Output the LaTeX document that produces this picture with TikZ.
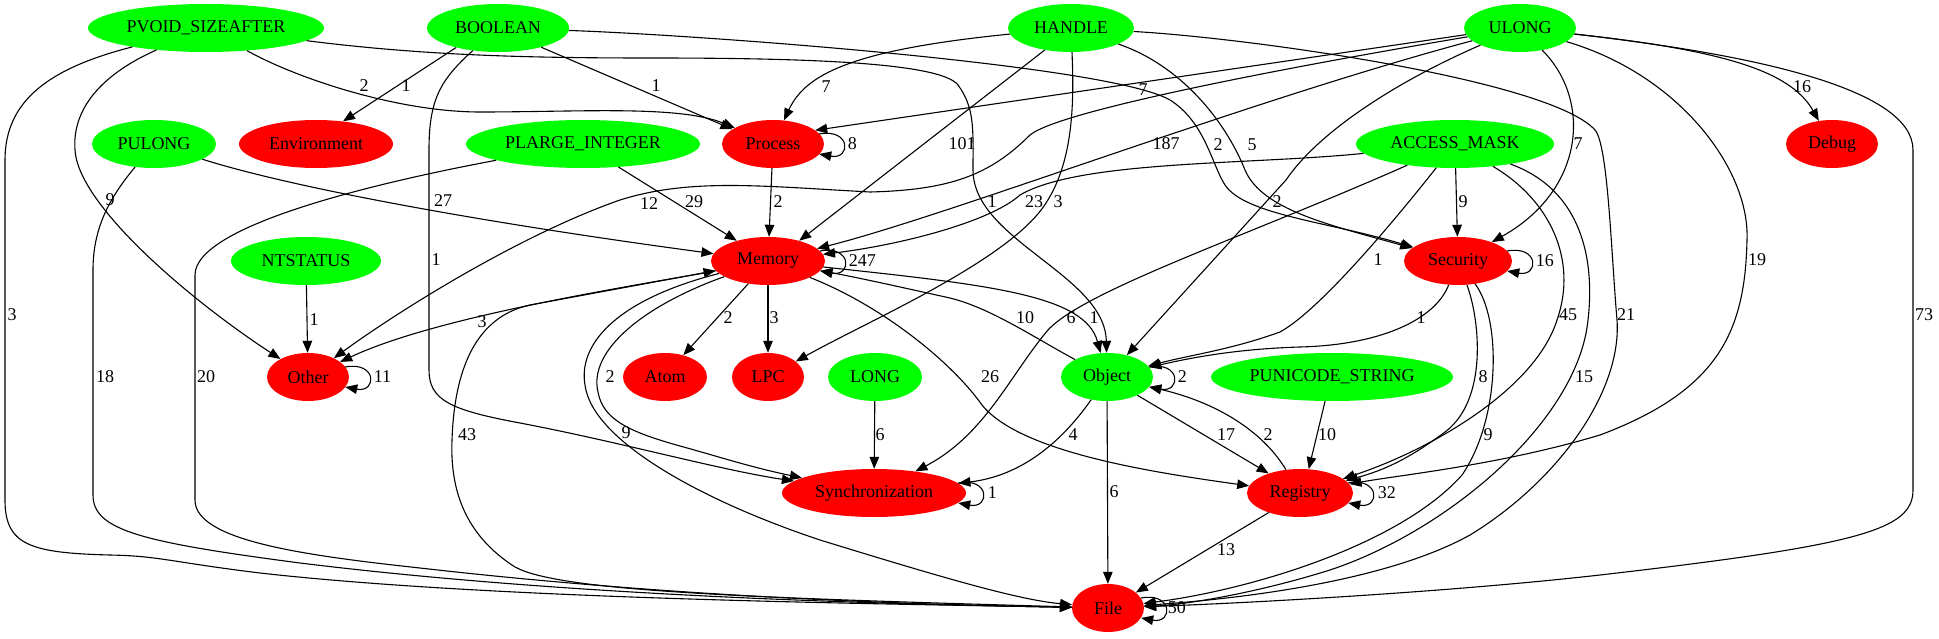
\documentclass[tikz,border=0pt]{standalone}
\usepackage{fontspec}
\setmainfont{Liberation Serif}
\usetikzlibrary{arrows.meta}
\usetikzlibrary{shapes.geometric}
\definecolor{typegreen}{RGB}{0,255,0}
\definecolor{groupred}{RGB}{255,0,0}
\newcommand{\gvfont}{\fontsize{18}{21}\selectfont}

\begin{document}
\begin{tikzpicture}[x=1pt, y=-1pt,
    typ/.style={ellipse, fill=typegreen, minimum height=48pt, inner sep=0pt, font=\gvfont},
    grp/.style={typ, fill=groupred},
    dep/.style={line width=1.1pt, -{Triangle[length=12pt, width=9.5pt]}},
    lbl/.style={font=\gvfont, inner sep=0pt}]
    \useasboundingbox[fill=white] (0,0) rectangle (1939,639);

    \node[typ, minimum width=236pt] (pvoid) at (206,28) {PVOID\_SIZEAFTER};
    \node[typ, minimum width=142pt] (boolean) at (498,28) {BOOLEAN};
    \node[typ, minimum width=126pt] (handle) at (1071,28) {HANDLE};
    \node[typ, minimum width=112pt] (ulong) at (1520,28) {ULONG};
    \node[typ, minimum width=124pt] (pulong) at (154,144) {PULONG};
    \node[grp, minimum width=154pt] (env) at (316,144) {Environment};
    \node[typ, minimum width=234pt] (plarge) at (583,144) {PLARGE\_INTEGER};
    \node[grp, minimum width=102pt] (process) at (773,144) {Process};
    \node[typ, minimum width=198pt] (access) at (1455,144) {ACCESS\_MASK};
    \node[grp, minimum width=92pt] (debug) at (1832,144) {Debug};
    \node[typ, minimum width=150pt] (ntstatus) at (306,261) {NTSTATUS};
    \node[grp, minimum width=114pt] (memory) at (768,261) {Memory};
    \node[grp, minimum width=108pt] (security) at (1458,261) {Security};
    \node[grp, minimum width=82pt] (other) at (308,377) {Other};
    \node[grp, minimum width=84pt] (atom) at (665,377) {Atom};
    \node[grp, minimum width=72pt] (lpc) at (768,377) {LPC};
    \node[typ, minimum width=94pt] (long) at (875,377) {LONG};
    \node[typ, minimum width=92pt] (object) at (1107,377) {Object};
    \node[typ, minimum width=242pt] (punicode) at (1332,377) {PUNICODE\_STRING};
    \node[grp, minimum width=184pt] (sync) at (874,493) {Synchronization};
    \node[grp, minimum width=106pt] (registry) at (1300,493) {Registry};
    \node[grp, minimum width=72pt] (file) at (1108,608) {File};

    \draw[dep] (pvoid) .. controls (50,68) and (5,100) .. (5,160) -- (5,500) .. controls (5,545) and (30,553) .. (110,555) .. controls (160,556) and (170,562) .. (260,573) .. controls (500,600) and (900,604) .. (file) node[lbl] at (12,315) {3};
    \draw[dep] (pvoid) .. controls (100,75) and (72,110) .. (75,150) .. controls (78,205) and (190,300) .. (other) node[lbl] at (110,200) {9};
    \draw[dep] (pvoid) .. controls (300,80) and (400,112) .. (480,112) .. controls (580,112) and (680,105) .. (process) node[lbl] at (364,86) {2};
    \draw[dep] (pvoid) .. controls (420,55) and (520,58) .. (650,58) .. controls (800,58) and (940,62) .. (958,85) .. controls (975,108) and (973,130) .. (973,170) .. controls (973,240) and (1105,275) .. (object) node[lbl] at (992,202) {1};

    \draw[dep] (boolean.205) -- (env.40) node[lbl] at (406,86) {1};
    \draw[dep] (boolean.-24) -- (process.160) node[lbl] at (656,86) {1};
    \draw[dep] (boolean) .. controls (440,80) and (429,100) .. (429,150) -- (429,370) .. controls (429,400) and (450,410) .. (520,423) .. controls (620,442) and (720,470) .. (sync) node[lbl] at (436,260) {1};
    \draw[dep] (boolean) .. controls (700,35) and (1110,65) .. (1170,100) .. controls (1205,122) and (1212,165) .. (1225,185) .. controls (1245,215) and (1330,222) .. (security) node[lbl] at (1218,145) {2};

    \draw[dep] (handle) .. controls (850,50) and (805,75) .. (process) node[lbl] at (826,87) {7};
    \draw[dep] (handle.220) -- (memory.33) node[lbl] at (962,144) {101};
    \draw[dep] (handle) .. controls (1074,100) and (1074,160) .. (1046,203) .. controls (1010,260) and (870,320) .. (lpc) node[lbl] at (1058,202) {3};
    \draw[dep] (handle) .. controls (1180,65) and (1225,120) .. (1245,170) .. controls (1262,210) and (1330,225) .. (security) node[lbl] at (1252,145) {5};
    \draw[dep] (handle) .. controls (1250,38) and (1550,80) .. (1595,130) .. controls (1608,145) and (1611,250) .. (1617,320) .. controls (1622,390) and (1560,480) .. (1470,535) .. controls (1380,585) and (1220,600) .. (file) node[lbl] at (1626,315) {21};

    \draw[dep] (ulong.187) -- (process.18) node[lbl] at (1143,90) {7};
    \draw[dep] (ulong) .. controls (1300,65) and (1060,110) .. (1030,135) .. controls (990,175) and (950,190) .. (870,192) .. controls (760,186) and (690,178) .. (620,200) .. controls (520,235) and (400,310) .. (other) node[lbl] at (649,204) {12};
    \draw[dep] (ulong) .. controls (1250,100) and (950,215) .. (memory) node[lbl] at (1166,144) {187};
    \draw[dep] (ulong) .. controls (1400,80) and (1320,130) .. (1286,180) -- (object) node[lbl] at (1277,202) {2};
    \draw[dep] (ulong) .. controls (1592,100) and (1585,190) .. (security) node[lbl] at (1578,144) {7};
    \draw[dep] (ulong) .. controls (1720,50) and (1790,70) .. (debug) node[lbl] at (1802,87) {16};
    \draw[dep] (ulong) .. controls (1680,75) and (1750,170) .. (1747,240) .. controls (1745,330) and (1720,390) .. (1600,435) .. controls (1500,465) and (1400,475) .. (registry) node[lbl] at (1757,260) {19};
    \draw[dep] (ulong) .. controls (1760,55) and (1913,90) .. (1913,150) -- (1913,490) .. controls (1913,530) and (1860,545) .. (1600,575) .. controls (1450,592) and (1250,603) .. (file) node[lbl] at (1924,315) {73};

    \draw[dep] (pulong) .. controls (300,190) and (500,225) .. (memory) node[lbl] at (443,201) {27};
    \draw[dep] (pulong) .. controls (112,195) and (93,225) .. (93,270) -- (93,495) .. controls (93,530) and (140,542) .. (300,563) .. controls (600,600) and (950,605) .. (file) node[lbl] at (105,377) {18};
    \draw[dep] (plarge.-33) -- (memory.147) node[lbl] at (694,202) {29};
    \draw[dep] (plarge) .. controls (380,182) and (195,225) .. (195,275) -- (195,500) .. controls (195,540) and (300,555) .. (420,568) .. controls (700,600) and (950,605) .. (file) node[lbl] at (206,377) {20};

    \draw[dep] (access) .. controls (1250,165) and (1080,160) .. (1020,195) .. controls (990,222) and (900,245) .. (memory) node[lbl] at (1034,202) {23};
    \draw[dep] (access) -- (security) node[lbl] at (1463,202) {9};
    \draw[dep] (access) .. controls (1395,220) and (1320,310) .. (1280,332) .. controls (1230,350) and (1190,355) .. (object) node[lbl] at (1378,260) {1};
    \draw[dep] (access) .. controls (1250,235) and (1085,290) .. (1048,330) .. controls (1010,375) and (985,435) .. (sync) node[lbl] at (1071,318) {6};
    \draw[dep] (access) .. controls (1550,200) and (1578,260) .. (1557,320) .. controls (1535,390) and (1430,450) .. (registry) node[lbl] at (1568,315) {45};
    \draw[dep] (access) .. controls (1582,190) and (1595,260) .. (1588,320) .. controls (1578,420) and (1450,530) .. (1330,570) .. controls (1250,595) and (1180,605) .. (file) node[lbl] at (1584,377) {15};

    \draw[dep] (security) .. controls (1435,320) and (1380,345) .. (1300,347) .. controls (1235,349) and (1190,358) .. (object) node[lbl] at (1421,318) {1};
    \draw[dep] (security) .. controls (1480,320) and (1488,400) .. (1445,432) .. controls (1410,458) and (1385,470) .. (registry) node[lbl] at (1483,377) {8};
    \draw[dep] (security) .. controls (1502,320) and (1500,420) .. (1462,475) .. controls (1400,545) and (1250,590) .. (file) node[lbl] at (1488,435) {9};

    \draw[dep] (ntstatus) -- (other) node[lbl] at (314,320) {1};
    \draw[dep] (process) -- (memory) node[lbl] at (778,202) {2};
    \draw[dep] (memory) .. controls (640,285) and (440,315) .. (other) node[lbl] at (482,322) {3};
    \draw[dep] (memory.229) -- (atom.50) node[lbl] at (728,318) {2};
    \draw[dep] (memory) -- (lpc) node[lbl] at (774,318) {3};
    \draw[dep] (memory) .. controls (645,305) and (588,350) .. (598,392) .. controls (603,420) and (630,432) .. (680,446) .. controls (720,457) and (750,467) .. (sync) node[lbl] at (610,377) {2};
    \draw[dep] (memory) .. controls (615,300) and (578,345) .. (585,385) .. controls (592,440) and (700,500) .. (820,540) .. controls (950,580) and (1020,600) .. (file) node[lbl] at (626,433) {9};
    \draw[dep] (file) .. controls (760,598) and (560,592) .. (515,567) .. controls (465,535) and (450,490) .. (452,440) .. controls (454,380) and (470,318) .. (530,305) -- (memory) node[lbl] at (467,435) {43};
    \draw[dep] (memory) .. controls (880,305) and (950,360) .. (982,405) .. controls (1020,452) and (1150,472) .. (registry) node[lbl] at (990,377) {26};
    \draw[dep] (memory) .. controls (990,285) and (1085,295) .. (object) node[lbl] at (1094,318) {1};
    \draw[dep] (object) .. controls (1030,335) and (990,308) .. (950,298) .. controls (900,287) and (860,278) .. (memory) node[lbl] at (1025,318) {10};

    \draw[dep] (object) .. controls (1070,430) and (1030,475) .. (sync) node[lbl] at (1073,435) {4};
    \draw[dep] (object) -- (file) node[lbl] at (1114,492) {6};
    \draw[dep] (object.-31) -- (registry.148) node[lbl] at (1226,435) {17};
    \draw[dep] (registry) .. controls (1262,430) and (1215,402) .. (object) node[lbl] at (1268,435) {2};
    \draw[dep] (registry.212) -- (file.29) node[lbl] at (1226,550) {13};
    \draw[dep] (long) -- (sync) node[lbl] at (880,435) {6};
    \draw[dep] (punicode.254) -- (registry.70) node[lbl] at (1327,435) {10};

    \draw[dep] ([shift={(-5,-10)}]process.east) .. controls +(32,-6) and +(32,6) .. ([shift={(-5,10)}]process.east) node[lbl, anchor=west] at ([shift={(23,0)}]process.east) {8};
    \draw[dep] ([shift={(-5,-10)}]memory.east) .. controls +(32,-6) and +(32,6) .. ([shift={(-5,10)}]memory.east) node[lbl, anchor=west] at ([shift={(23,0)}]memory.east) {247};
    \draw[dep] ([shift={(-5,-10)}]security.east) .. controls +(32,-6) and +(32,6) .. ([shift={(-5,10)}]security.east) node[lbl, anchor=west] at ([shift={(23,0)}]security.east) {16};
    \draw[dep] ([shift={(-4,-10)}]other.east) .. controls +(32,-6) and +(32,6) .. ([shift={(-4,10)}]other.east) node[lbl, anchor=west] at ([shift={(24,0)}]other.east) {11};
    \draw[dep] ([shift={(-4,-10)}]object.east) .. controls +(32,-6) and +(32,6) .. ([shift={(-4,10)}]object.east) node[lbl, anchor=west] at ([shift={(24,0)}]object.east) {2};
    \draw[dep] ([shift={(-8,-10)}]sync.east) .. controls +(32,-6) and +(32,6) .. ([shift={(-8,10)}]sync.east) node[lbl, anchor=west] at ([shift={(21,0)}]sync.east) {1};
    \draw[dep] ([shift={(-5,-10)}]registry.east) .. controls +(32,-6) and +(32,6) .. ([shift={(-5,10)}]registry.east) node[lbl, anchor=west] at ([shift={(24,0)}]registry.east) {32};
    \draw[dep] ([shift={(-3,-10)}]file.east) .. controls +(32,-6) and +(32,6) .. ([shift={(-3,10)}]file.east) node[lbl, anchor=west] at ([shift={(23,0)}]file.east) {50};
\end{tikzpicture}
\end{document}
